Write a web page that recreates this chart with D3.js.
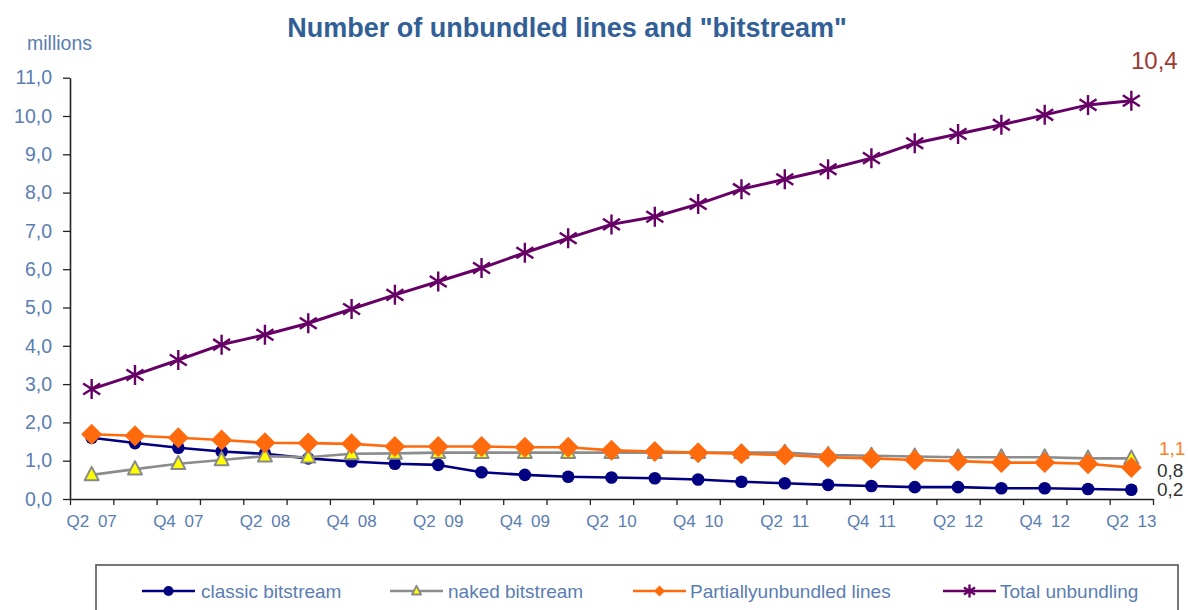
<!DOCTYPE html>
<html>
<head>
<meta charset="utf-8">
<script src="https://cdn.jsdelivr.net/npm/d3@7"></script>
<style>
  html, body { margin: 0; padding: 0; background: #fff; }
  svg { display: block; font-family: "Liberation Sans", Arial, sans-serif; }
</style>
</head>
<body>
<svg id="chart" width="1188" height="610"></svg>
<script>
const categories = ["Q2 07","Q3 07","Q4 07","Q1 08","Q2 08","Q3 08","Q4 08","Q1 09","Q2 09","Q3 09","Q4 09","Q1 10","Q2 10","Q3 10","Q4 10","Q1 11","Q2 11","Q3 11","Q4 11","Q1 12","Q2 12","Q3 12","Q4 12","Q1 13","Q2 13"];
const classicBitstream = [1.60,1.46,1.34,1.24,1.18,1.06,0.98,0.92,0.89,0.70,0.63,0.58,0.56,0.54,0.51,0.45,0.41,0.37,0.34,0.31,0.31,0.28,0.28,0.26,0.24];
const nakedBitstream = [0.63,0.78,0.92,1.02,1.12,1.09,1.18,1.19,1.21,1.21,1.21,1.21,1.21,1.21,1.21,1.21,1.21,1.15,1.13,1.11,1.09,1.09,1.09,1.06,1.06];
const partiallyUnbundled = [1.69,1.65,1.60,1.54,1.47,1.46,1.44,1.37,1.37,1.37,1.35,1.35,1.27,1.24,1.21,1.18,1.15,1.09,1.06,1.02,0.99,0.95,0.95,0.92,0.82];
const totalUnbundling = [2.87,3.24,3.63,4.03,4.29,4.59,4.96,5.33,5.68,6.03,6.43,6.81,7.17,7.37,7.70,8.09,8.35,8.61,8.90,9.29,9.53,9.77,10.03,10.29,10.40];
const seriesNames = ["classic bitstream","naked bitstream","Partiallyunbundled lines","Total unbundling"];
const yTicks = [0,1,2,3,4,5,6,7,8,9,10,11];
const endLabels = [
  {text: "10,4", color: "#9e3a34", size: 24},
  {text: "1,1", color: "#ff7f27", size: 19},
  {text: "0,8", color: "#333333", size: 19},
  {text: "0,2", color: "#333333", size: 19}
];

const labelColor = "#5a7db2";
const svg = d3.select("#chart");
const x0 = 70, x1 = 1153, yBottom = 499, yTop = 77.7;

const x = d3.scaleBand().domain(categories).range([x0, x1]).padding(0);
const xEdge = d3.scaleLinear().domain([0, categories.length]).range([x0, x1]);
const y = d3.scaleLinear().domain([0, 11]).range([yBottom, yTop]);
const fmt = v => d3.format(".1f")(v).replace(".", ",");

// Title
svg.append("text").attr("x", 567).attr("y", 37).attr("text-anchor", "middle")
  .attr("font-size", 27).attr("font-weight", "bold").attr("fill", "#315f96")
  .text('Number of unbundled lines and "bitstream"');

svg.append("text").attr("x", 27).attr("y", 50)
  .attr("font-size", 19.5).attr("fill", labelColor).text("millions");

// Y axis
const gy = svg.append("g").attr("transform", `translate(${x0},0)`)
  .call(d3.axisLeft(y).tickValues(yTicks).tickFormat(fmt).tickSize(7).tickSizeOuter(0).tickPadding(11));
gy.select(".domain").attr("stroke", "#222").attr("stroke-width", 1.6);
gy.selectAll(".tick line").attr("stroke", "#222").attr("stroke-width", 1.3);
gy.selectAll(".tick text").attr("font-size", 19.5).attr("fill", labelColor)
  .attr("font-family", '"Liberation Sans", Arial, sans-serif');

// X axis tick marks at category boundaries
const gxt = svg.append("g").attr("transform", `translate(0,${yBottom})`)
  .call(d3.axisBottom(xEdge).ticks(categories.length).tickFormat("").tickSize(6).tickSizeOuter(0));
gxt.select(".domain").attr("stroke", "#222").attr("stroke-width", 1.6);
gxt.selectAll(".tick line").attr("stroke", "#222").attr("stroke-width", 1.3);

// X labels
const gxl = svg.append("g").attr("transform", `translate(0,${yBottom})`)
  .call(d3.axisBottom(x).tickValues(categories.filter((d, i) => i % 2 === 0)).tickSize(0).tickPadding(16));
gxl.select(".domain").remove();
gxl.selectAll(".tick text").attr("font-size", 17).attr("fill", labelColor)
  .attr("font-family", '"Liberation Sans", Arial, sans-serif')
  .style("word-spacing", "4px");

const cx = (d, i) => x(categories[i]) + x.bandwidth() / 2;
const line = d3.line().x((d, i) => cx(d, i)).y(d => y(d));

// marker drawers
function circleMarker(g, px, py, r) {
  g.append("circle").attr("cx", px).attr("cy", py).attr("r", r).attr("fill", "#000080");
}
function triMarker(g, px, py, s) {
  const h = s * 0.95;
  g.append("path").attr("d", `M${px},${py - h * 0.6}L${px + s / 2},${py + h * 0.4}L${px - s / 2},${py + h * 0.4}Z`)
    .attr("fill", "#ffff00").attr("stroke", "#8a8a8a").attr("stroke-width", 2).attr("stroke-linejoin", "round");
}
function diamondMarker(g, px, py, s) {
  g.append("path").attr("d", `M${px},${py - s}L${px + s},${py}L${px},${py + s}L${px - s},${py}Z`)
    .attr("fill", "#ff6a0d");
}
function starMarker(g, px, py, s) {
  const d = s * 0.85;
  g.append("path").attr("d", `M${px},${py - s}L${px},${py + s}M${px - d},${py - d * 0.65}L${px + d},${py + d * 0.65}M${px - d},${py + d * 0.65}L${px + d},${py - d * 0.65}`)
    .attr("stroke", "#660066").attr("stroke-width", 2.4).attr("fill", "none");
}

const series = [
  {name: seriesNames[0], values: classicBitstream, color: "#000080", width: 2.6, marker: (g, px, py) => circleMarker(g, px, py, 6.3)},
  {name: seriesNames[1], values: nakedBitstream, color: "#8c8c8c", width: 2.6, marker: (g, px, py) => triMarker(g, px, py, 14)},
  {name: seriesNames[2], values: partiallyUnbundled, color: "#ff6a0d", width: 2.6, marker: (g, px, py) => diamondMarker(g, px, py, 10.5)},
  {name: seriesNames[3], values: totalUnbundling, color: "#660066", width: 3, marker: (g, px, py) => starMarker(g, px, py, 10)}
];

series.forEach(s => {
  const g = svg.append("g");
  g.append("path").datum(s.values).attr("d", line).attr("fill", "none")
    .attr("stroke", s.color).attr("stroke-width", s.width).attr("stroke-linejoin", "round");
  s.values.forEach((v, i) => s.marker(g, cx(v, i), y(v)));
});

// End labels
const yLbl = {"10,4": 69, "1,1": 455, "0,8": 476.5, "0,2": 496};
const xLbl = {"10,4": 1131, "1,1": 1159, "0,8": 1157, "0,2": 1157};
endLabels.forEach(l => {
  svg.append("text").attr("x", xLbl[l.text]).attr("y", yLbl[l.text])
    .attr("font-size", l.size).attr("fill", l.color).text(l.text);
});

// Legend
svg.append("rect").attr("x", 96).attr("y", 565).attr("width", 1082).attr("height", 60)
  .attr("fill", "none").attr("stroke", "#555").attr("stroke-width", 1.6);
const legendX = [142, 390, 633, 943];
const legendTextX = [201, 448, 690, 1000];
const ly = 591;
const legendMarkers = [
  (g, px, py) => circleMarker(g, px, py, 5),
  (g, px, py) => triMarker(g, px, py, 9),
  (g, px, py) => diamondMarker(g, px, py, 5.5),
  (g, px, py) => starMarker(g, px, py, 6.5)
];
series.forEach((s, i) => {
  const g = svg.append("g");
  g.append("line").attr("x1", legendX[i]).attr("x2", legendX[i] + 53).attr("y1", ly).attr("y2", ly)
    .attr("stroke", s.color).attr("stroke-width", 2.6);
  legendMarkers[i](g, legendX[i] + 26.5, ly);
  g.append("text").attr("x", legendTextX[i]).attr("y", ly + 7).attr("font-size", 19)
    .attr("fill", labelColor).text(s.name);
});
</script>
</body>
</html>
